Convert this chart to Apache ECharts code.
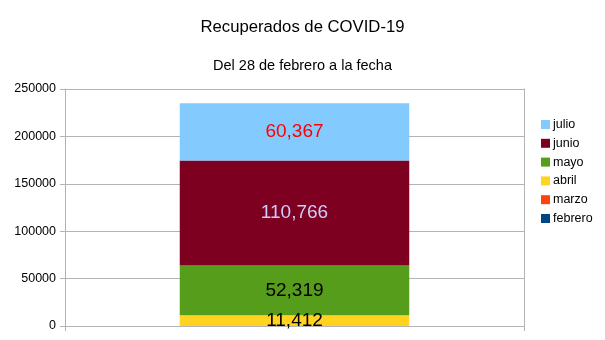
<!DOCTYPE html>
<html><head><meta charset="utf-8">
<script src="https://cdn.jsdelivr.net/npm/echarts@6/dist/echarts.min.js"></script>
<style>html,body{margin:0;padding:0;background:#fff}#c{width:605px;height:340px}</style>
</head><body><div id="c"></div>
<script>
const categories = ['Total'];
const seriesNames = ['febrero', 'marzo', 'abril', 'mayo', 'junio', 'julio'];
const febrero = [0];
const marzo = [0];
const abril = [11412];
const mayo = [52319];
const junio = [110766];
const julio = [60367];
const yTicks = [0, 50000, 100000, 150000, 200000, 250000];

const values = [febrero, marzo, abril, mayo, junio, julio];
const colors = ['#004586', '#ff420e', '#ffd320', '#579d1c', '#7e0021', '#83caff'];
const labelColors = ['#000', '#000', '#000', '#000', '#ccccff', '#ff0000'];
const F = 'Liberation Sans, Arial, sans-serif';

const chart = echarts.init(document.getElementById('c'));
chart.setOption({
  animation: false,
  textStyle: {fontFamily: F},
  title: [
    {text: 'Recuperados de COVID-19', left: 'center', top: 14, textStyle: {fontFamily: F, fontSize: 16.7, fontWeight: 'normal', color: '#000'}},
    {text: 'Del 28 de febrero a la fecha', left: 'center', top: 53, textStyle: {fontFamily: F, fontSize: 14.5, fontWeight: 'normal', color: '#000'}}
  ],
  legend: {
    orient: 'vertical', left: 536, top: 113,
    itemWidth: 9, itemHeight: 9, itemGap: 5.8,
    icon: 'rect',
    data: seriesNames.slice().reverse(),
    textStyle: {fontFamily: F, fontSize: 12.5, color: '#000', padding: [0, 0, 0, -2]}
  },
  grid: {left: 65, right: 81, top: 89, bottom: 14},
  xAxis: {
    type: 'category', data: categories,
    axisLine: {lineStyle: {color: '#b3b3b3'}},
    axisTick: {show: true, length: 5, lineStyle: {color: '#b3b3b3'}},
    axisLabel: {show: false}
  },
  yAxis: [{
    type: 'value', min: yTicks[0], max: yTicks[yTicks.length - 1], interval: 50000,
    axisLine: {show: true, lineStyle: {color: '#b3b3b3'}},
    axisTick: {show: true, length: 5, lineStyle: {color: '#b3b3b3'}},
    axisLabel: {fontFamily: F, fontSize: 12.5, color: '#000', margin: 9, formatter: v => String(v)},
    splitLine: {lineStyle: {color: '#b3b3b3'}}
  }, {
    type: 'value', position: 'right', min: 0, max: 250000, interval: 50000,
    axisLine: {show: true, lineStyle: {color: '#b3b3b3'}},
    axisTick: {show: false}, axisLabel: {show: false}, splitLine: {show: false}
  }],
  series: seriesNames.map((n, i) => ({
    name: n, type: 'bar', stack: 'total', barWidth: '50%',
    data: values[i],
    itemStyle: {color: colors[i]},
    label: {
      show: true, position: 'inside', fontFamily: F, fontSize: 19, color: labelColors[i],
      formatter: p => p.value ? p.value.toLocaleString('en-US') : ''
    }
  }))
});
</script></body></html>
